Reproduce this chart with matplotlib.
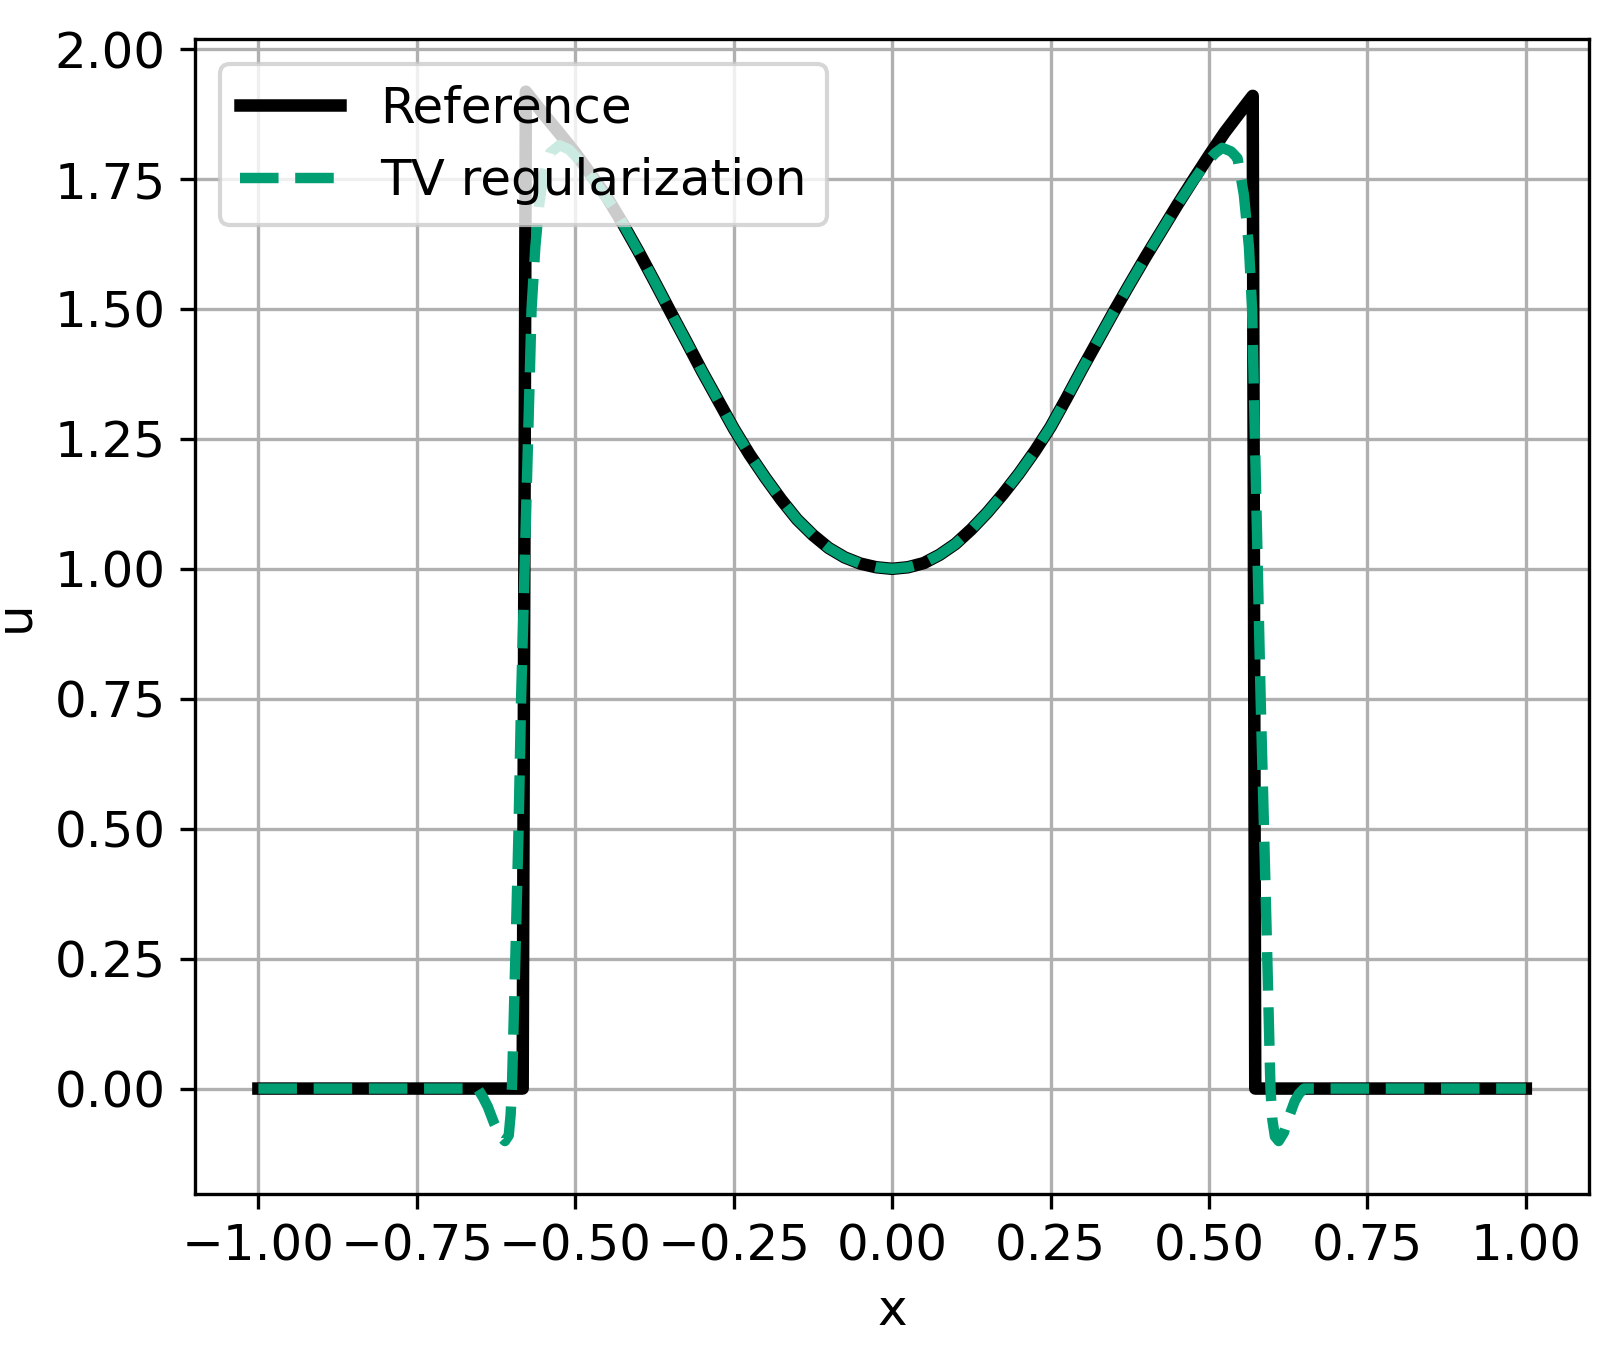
import matplotlib
matplotlib.use("Agg")
import matplotlib.pyplot as plt
import numpy as np

# Reference solution (x, u)
ref_x = [-1.0, -0.583, -0.578, -0.55, -0.525, -0.50, -0.475, -0.45, -0.425, -0.40,
         -0.375, -0.35, -0.325, -0.30, -0.275, -0.25, -0.225, -0.20, -0.175, -0.15,
         -0.125, -0.10, -0.075, -0.05, -0.025, 0.0, 0.025, 0.05, 0.075, 0.10, 0.125,
         0.15, 0.175, 0.20, 0.225, 0.25, 0.275, 0.30, 0.325, 0.35, 0.375, 0.40,
         0.425, 0.45, 0.475, 0.50, 0.525, 0.55, 0.569, 0.573, 1.0]
ref_u = [0.0, 0.0, 1.918, 1.875, 1.838, 1.800, 1.758, 1.715, 1.664, 1.610,
         1.553, 1.495, 1.438, 1.380, 1.325, 1.270, 1.220, 1.175, 1.133, 1.095,
         1.065, 1.040, 1.022, 1.010, 1.003, 1.0, 1.003, 1.011, 1.027, 1.048, 1.076,
         1.108, 1.144, 1.183, 1.226, 1.273, 1.328, 1.385, 1.440, 1.495, 1.548, 1.600,
         1.650, 1.700, 1.748, 1.795, 1.840, 1.880, 1.910, 0.0, 0.0]

# TV regularization (x, u)
tv_x = [-1.0, -0.66, -0.654, -0.646, -0.638, -0.628, -0.618, -0.611, -0.605, -0.602,
        -0.600, -0.5946, -0.5895, -0.5855, -0.580, -0.5745, -0.569, -0.563, -0.557,
        -0.550, -0.540, -0.525, -0.510, -0.495, -0.48, -0.46, -0.44, -0.425,
        -0.40, -0.375, -0.35, -0.325, -0.30, -0.275, -0.25, -0.225, -0.20, -0.175,
        -0.15, -0.125, -0.10, -0.075, -0.05, -0.025, 0.0, 0.025, 0.05, 0.075, 0.10,
        0.125, 0.15, 0.175, 0.20, 0.225, 0.25, 0.275, 0.30, 0.325, 0.35, 0.375,
        0.40, 0.425, 0.45, 0.475, 0.49, 0.50, 0.51, 0.521,
        0.535, 0.545, 0.555, 0.563, 0.568, 0.5725, 0.577, 0.5815, 0.5868, 0.592,
        0.597, 0.600, 0.604, 0.610, 0.618, 0.626, 0.635, 0.642, 0.650, 1.0]
tv_u = [0.0, 0.0, 0.0, -0.016, -0.035, -0.067, -0.092, -0.101, -0.09, -0.05,
        0.0, 0.25, 0.5, 0.75, 1.0, 1.25, 1.5, 1.62, 1.70,
        1.76, 1.80, 1.815, 1.807, 1.788, 1.765, 1.730, 1.695, 1.664,
        1.610, 1.553, 1.495, 1.438, 1.380, 1.325, 1.270, 1.220, 1.175, 1.133,
        1.095, 1.065, 1.040, 1.022, 1.010, 1.003, 1.0, 1.003, 1.011, 1.027, 1.048,
        1.076, 1.108, 1.144, 1.183, 1.226, 1.273, 1.328, 1.385, 1.440, 1.495, 1.548,
        1.600, 1.650, 1.700, 1.746, 1.772, 1.787, 1.800, 1.810,
        1.803, 1.790, 1.72, 1.62, 1.50, 1.25, 1.0, 0.75, 0.5, 0.25,
        0.0, -0.06, -0.092, -0.101, -0.085, -0.055, -0.025, -0.01, 0.0, 0.0]

plt.rcParams['font.size'] = 12

fig, ax = plt.subplots(figsize=(5.4, 4.5567), dpi=300)
fig.subplots_adjust(left=0.1204, right=0.981, top=0.9713, bottom=0.1269)

ax.plot(ref_x, ref_u, color='black', lw=3, label='Reference')
ax.plot(tv_x, tv_u, color='#009E73', lw=2.5, ls='--', label='TV regularization')
ax.set_xlabel('x')
ax.set_ylabel('u')
ax.set_xticks(np.linspace(-1, 1, 9))
ax.grid(True)
ax.legend(loc='upper left')

fig.savefig('out.png', dpi=300)
